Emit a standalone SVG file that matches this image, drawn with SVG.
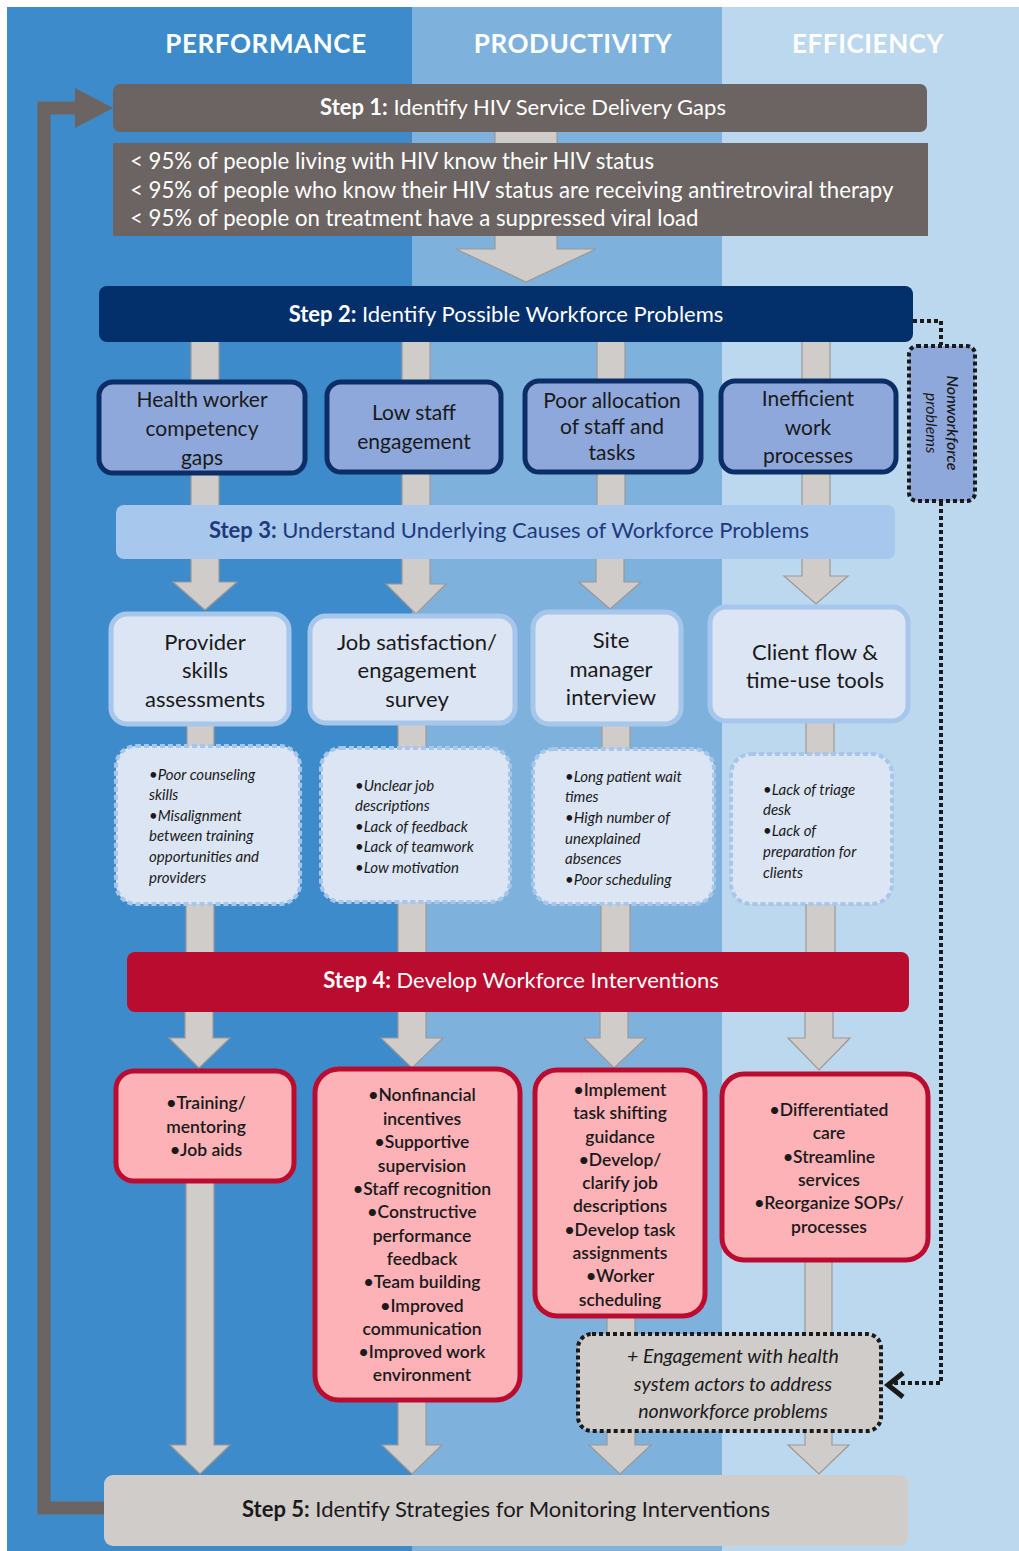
<svg xmlns="http://www.w3.org/2000/svg" width="1019" height="1551" viewBox="0 0 1019 1551">
<defs>
<style>
text{font-family:Lato,"Open Sans","Liberation Sans",sans-serif;}
.hdr{font-size:26px;font-weight:700;fill:#ffffff;text-anchor:middle;letter-spacing:0.6px}
.step{font-size:22px;text-anchor:middle}
.stepb{font-weight:700}
.wht{fill:#ffffff}
.bar{fill:#d0ccc9;stroke:#9d9896;stroke-width:1.2}
.prob{fill:#8ea8dc;stroke:#0c2e66;stroke-width:5}
.probt{font-size:21px;fill:#1a1a1a;text-anchor:middle}
.meth{fill:#dce5f4;stroke:#a6c6ec;stroke-width:5}
.metht{font-size:22px;fill:#1a1a1a;text-anchor:middle}
.cause{fill:#dce5f4;stroke:#a6c6ec;stroke-width:4;stroke-dasharray:5 3}
.causet{font-size:15px;font-style:italic;fill:#1a1a1a}
.intv{fill:#fdb2b7;stroke:#bb0c30;stroke-width:5}
.intvt{font-size:17.5px;font-weight:600;fill:#1a1a1a;text-anchor:middle}
.gap{font-size:22.2px;fill:#ffffff}
.dot{fill:none;stroke:#1a1a1a;stroke-width:4;stroke-dasharray:4 3}
</style>
</defs>
<rect x="0" y="0" width="1019" height="1551" fill="#ffffff"/>
<g id="background">
<rect x="7" y="7" width="405" height="1544" fill="#3d8bcb"/>
<rect x="412" y="7" width="310" height="1544" fill="#7eb2dc"/>
<rect x="722" y="7" width="297" height="1544" fill="#bcd8ee"/>
<text class="hdr" x="266" y="53">PERFORMANCE</text>
<text class="hdr" x="573" y="53">PRODUCTIVITY</text>
<text class="hdr" x="868" y="53">EFFICIENCY</text>
</g>
<g id="connectors">
<path d="M104 1508 H44 V108 H80" fill="none" stroke="#6b6462" stroke-width="13"/>
<polygon points="75,88 113,108 75,128" fill="#6b6462"/>
<rect class="bar" x="495" y="130" width="62" height="16"/>
<polygon class="bar" points="495,234 557,234 557,249 596,249 526,282 456,249 495,249"/>
<g>
<rect class="bar" x="191" y="340" width="28" height="42"/>
<rect class="bar" x="402" y="340" width="28" height="42"/>
<rect class="bar" x="597" y="340" width="28" height="42"/>
<rect class="bar" x="802" y="340" width="28" height="42"/>
<rect class="bar" x="191" y="471" width="28" height="36"/>
<rect class="bar" x="402" y="471" width="28" height="36"/>
<rect class="bar" x="597" y="471" width="28" height="36"/>
<rect class="bar" x="802" y="471" width="28" height="36"/>
</g>
<g>
<polygon class="bar" points="191,557 219,557 219,582 237,582 205,610 173,582 191,582"/>
<polygon class="bar" points="402,557 430,557 430,584 446,584 416,614 386,584 402,584"/>
<polygon class="bar" points="596,557 624,557 624,582 641,582 610,609 579,582 596,582"/>
<polygon class="bar" points="802,557 830,557 830,576 848,576 816,604 784,576 802,576"/>
</g>
<g>
<rect class="bar" x="187" y="724" width="27" height="24"/>
<rect class="bar" x="398" y="723" width="28" height="26"/>
<rect class="bar" x="602" y="724" width="28" height="26"/>
<rect class="bar" x="806" y="721" width="28" height="34"/>
<rect class="bar" x="186" y="903" width="28" height="51"/>
<rect class="bar" x="398" y="901" width="28" height="53"/>
<rect class="bar" x="601" y="903" width="29" height="51"/>
<rect class="bar" x="806" y="903" width="29" height="51"/>
</g>
<g>
<polygon class="bar" points="185,1010 213,1010 213,1038 230,1038 199,1068 169,1038 185,1038"/>
<polygon class="bar" points="398,1010 426,1010 426,1038 443,1038 412,1068 381,1038 398,1038"/>
<polygon class="bar" points="600,1010 628,1010 628,1038 646,1038 614,1068 584,1038 600,1038"/>
<polygon class="bar" points="805,1010 833,1010 833,1038 850,1038 819,1070 788,1038 805,1038"/>
</g>
<g>
<polygon class="bar" points="186,1180 214,1180 214,1445 230,1445 200,1474 170,1445 186,1445"/>
<polygon class="bar" points="398,1400 426,1400 426,1445 442,1445 412,1474 382,1445 398,1445"/>
<polygon class="bar" points="607,1316 635,1316 635,1445 651,1445 620,1474 589,1445 607,1445"/>
<polygon class="bar" points="805,1260 832,1260 832,1445 849,1445 819,1474 788,1445 805,1445"/>
</g>
<path class="dot" d="M913 321 H941 V345"/>
<path class="dot" d="M941 502 V1383 H892"/>
<polyline points="903,1373 888,1385 903,1397" fill="none" stroke="#1a1a1a" stroke-width="5"/>
</g>
<g id="step1">
<rect x="113" y="84" width="814" height="48" rx="7" fill="#6b6462"/>
<text class="step wht" x="523" y="115" font-size="23"><tspan class="stepb">Step 1:</tspan> Identify HIV Service Delivery Gaps</text>
</g>
<g id="step1-gaps">
<rect x="113" y="143" width="815" height="93" fill="#6b6462"/>
<text class="gap" x="130" y="169">&lt; 95% of people living with HIV know their HIV status</text>
<text class="gap" x="130" y="198">&lt; 95% of people who know their HIV status are receiving antiretroviral therapy</text>
<text class="gap" x="130" y="226">&lt; 95% of people on treatment have a suppressed viral load</text>
</g>
<g id="step2">
<rect x="99" y="286" width="814" height="56" rx="8" fill="#032f6b"/>
<text class="step wht" x="506" y="322" font-size="23.5"><tspan class="stepb">Step 2:</tspan> Identify Possible Workforce Problems</text>
</g>
<g id="prob-competency">
<rect class="prob" x="99" y="382" width="206" height="91" rx="14"/>
<text class="probt" x="202" y="407">Health worker</text>
<text class="probt" x="202" y="436">competency</text>
<text class="probt" x="202" y="465">gaps</text>
</g>
<g id="prob-engagement">
<rect class="prob" x="327" y="382" width="174" height="90" rx="14"/>
<text class="probt" x="414" y="420">Low staff</text>
<text class="probt" x="414" y="449">engagement</text>
</g>
<g id="prob-allocation">
<rect class="prob" x="525" y="381" width="176" height="91" rx="14"/>
<text class="probt" x="612" y="408" font-size="19.5">Poor allocation</text>
<text class="probt" x="612" y="434" font-size="19.5">of staff and</text>
<text class="probt" x="612" y="460" font-size="19.5">tasks</text>
</g>
<g id="prob-processes">
<rect class="prob" x="721" y="381" width="175" height="91" rx="14"/>
<text class="probt" x="808" y="406">Inefficient</text>
<text class="probt" x="808" y="435">work</text>
<text class="probt" x="808" y="463">processes</text>
</g>
<g id="nonworkforce">
<rect x="909" y="346" width="66" height="155" rx="8" fill="#8ea8dc" stroke="#1a1a1a" stroke-width="4" stroke-dasharray="4 3"/>
<text transform="translate(942,423) rotate(90)" font-size="16" font-style="italic" fill="#1a1a1a" text-anchor="middle"><tspan x="0" y="-4.5" font-weight="600">Nonworkforce</tspan><tspan x="0" y="16.5">problems</tspan></text>
</g>
<g id="step3">
<rect x="116" y="505" width="779" height="54" rx="8" fill="#a8c7ec"/>
<text class="step" x="509" y="538" fill="#1f3a7c"><tspan class="stepb">Step 3:</tspan> Understand Underlying Causes of Workforce Problems</text>
</g>
<g id="method-skills">
<rect class="meth" x="111" y="614" width="178" height="110" rx="16"/>
<text class="metht" x="205" y="650">Provider</text>
<text class="metht" x="205" y="678">skills</text>
<text class="metht" x="205" y="707">assessments</text>
</g>
<g id="method-survey">
<rect class="meth" x="310" y="616" width="205" height="107" rx="16"/>
<text class="metht" x="417" y="650">Job satisfaction/</text>
<text class="metht" x="417" y="678">engagement</text>
<text class="metht" x="417" y="707">survey</text>
</g>
<g id="method-interview">
<rect class="meth" x="533" y="612" width="148" height="112" rx="16"/>
<text class="metht" x="611" y="648">Site</text>
<text class="metht" x="611" y="677">manager</text>
<text class="metht" x="611" y="705">interview</text>
</g>
<g id="method-clientflow">
<rect class="meth" x="710" y="607" width="198" height="114" rx="16"/>
<text class="metht" x="815" y="660">Client flow &amp;</text>
<text class="metht" x="815" y="688">time-use tools</text>
</g>
<g id="cause-skills">
<rect class="cause" x="116" y="746" width="184" height="158" rx="20"/>
<text class="causet" x="149" y="780">•Poor counseling</text>
<text class="causet" x="149" y="800">skills</text>
<text class="causet" x="149" y="821">•Misalignment</text>
<text class="causet" x="149" y="841">between training</text>
<text class="causet" x="149" y="862">opportunities and</text>
<text class="causet" x="149" y="883">providers</text>
</g>
<g id="cause-survey">
<rect class="cause" x="321" y="748" width="189" height="154" rx="20"/>
<text class="causet" x="355" y="791">•Unclear job</text>
<text class="causet" x="355" y="811">descriptions</text>
<text class="causet" x="355" y="832">•Lack of feedback</text>
<text class="causet" x="355" y="852">•Lack of teamwork</text>
<text class="causet" x="355" y="873">•Low motivation</text>
</g>
<g id="cause-interview">
<rect class="cause" x="533" y="749" width="181" height="155" rx="20"/>
<text class="causet" x="565" y="782">•Long patient wait</text>
<text class="causet" x="565" y="802">times</text>
<text class="causet" x="565" y="823">•High number of</text>
<text class="causet" x="565" y="844">unexplained</text>
<text class="causet" x="565" y="864">absences</text>
<text class="causet" x="565" y="885">•Poor scheduling</text>
</g>
<g id="cause-clientflow">
<rect class="cause" x="731" y="754" width="161" height="150" rx="20"/>
<text class="causet" x="763" y="795">•Lack of triage</text>
<text class="causet" x="763" y="815">desk</text>
<text class="causet" x="763" y="836">•Lack of</text>
<text class="causet" x="763" y="857">preparation for</text>
<text class="causet" x="763" y="878">clients</text>
</g>
<g id="step4">
<rect x="127" y="952" width="782" height="60" rx="8" fill="#ba0c2f"/>
<text class="step wht" x="521" y="988"><tspan class="stepb">Step 4:</tspan> Develop Workforce Interventions</text>
</g>
<g id="intv-performance">
<rect class="intv" x="116" y="1071" width="178" height="110" rx="18"/>
<text class="intvt" x="206" y="1109">•Training/</text>
<text class="intvt" x="206" y="1133">mentoring</text>
<text class="intvt" x="206" y="1156">•Job aids</text>
</g>
<g id="intv-engagement">
<rect class="intv" x="315" y="1069" width="205" height="331" rx="24"/>
<text class="intvt" x="422" y="1101">•Nonfinancial</text>
<text class="intvt" x="422" y="1125">incentives</text>
<text class="intvt" x="422" y="1148">•Supportive</text>
<text class="intvt" x="422" y="1172">supervision</text>
<text class="intvt" x="422" y="1195">•Staff recognition</text>
<text class="intvt" x="422" y="1218">•Constructive</text>
<text class="intvt" x="422" y="1242">performance</text>
<text class="intvt" x="422" y="1265">feedback</text>
<text class="intvt" x="422" y="1288">•Team building</text>
<text class="intvt" x="422" y="1312">•Improved</text>
<text class="intvt" x="422" y="1335">communication</text>
<text class="intvt" x="422" y="1358">•Improved work</text>
<text class="intvt" x="422" y="1381">environment</text>
</g>
<g id="intv-allocation">
<rect class="intv" x="535" y="1070" width="170" height="246" rx="22"/>
<text class="intvt" x="620" y="1096">•Implement</text>
<text class="intvt" x="620" y="1119">task shifting</text>
<text class="intvt" x="620" y="1143">guidance</text>
<text class="intvt" x="620" y="1166">•Develop/</text>
<text class="intvt" x="620" y="1189">clarify job</text>
<text class="intvt" x="620" y="1212">descriptions</text>
<text class="intvt" x="620" y="1236">•Develop task</text>
<text class="intvt" x="620" y="1259">assignments</text>
<text class="intvt" x="620" y="1282">•Worker</text>
<text class="intvt" x="620" y="1306">scheduling</text>
</g>
<g id="intv-processes">
<rect class="intv" x="722" y="1074" width="206" height="186" rx="22"/>
<text class="intvt" x="829" y="1116">•Differentiated</text>
<text class="intvt" x="829" y="1139">care</text>
<text class="intvt" x="829" y="1163">•Streamline</text>
<text class="intvt" x="829" y="1186">services</text>
<text class="intvt" x="829" y="1209">•Reorganize SOPs/</text>
<text class="intvt" x="829" y="1233">processes</text>
</g>
<g id="engagement-nonworkforce">
<rect x="578" y="1334" width="303" height="97" rx="14" fill="#d0ccc9" stroke="#1a1a1a" stroke-width="4" stroke-dasharray="4 3"/>
<text x="733" y="1363" font-size="19.5" font-style="italic" fill="#1a1a1a" text-anchor="middle">+ Engagement with health</text>
<text x="733" y="1391" font-size="19.5" font-style="italic" fill="#1a1a1a" text-anchor="middle">system actors to address</text>
<text x="733" y="1418" font-size="19.5" font-style="italic" fill="#1a1a1a" text-anchor="middle">nonworkforce problems</text>
</g>
<g id="step5">
<rect x="104" y="1475" width="804" height="71" rx="9" fill="#d0ccc9"/>
<text class="step" x="506" y="1517" fill="#1a1a1a"><tspan class="stepb">Step 5:</tspan> Identify Strategies for Monitoring Interventions</text>
</g>
</svg>
